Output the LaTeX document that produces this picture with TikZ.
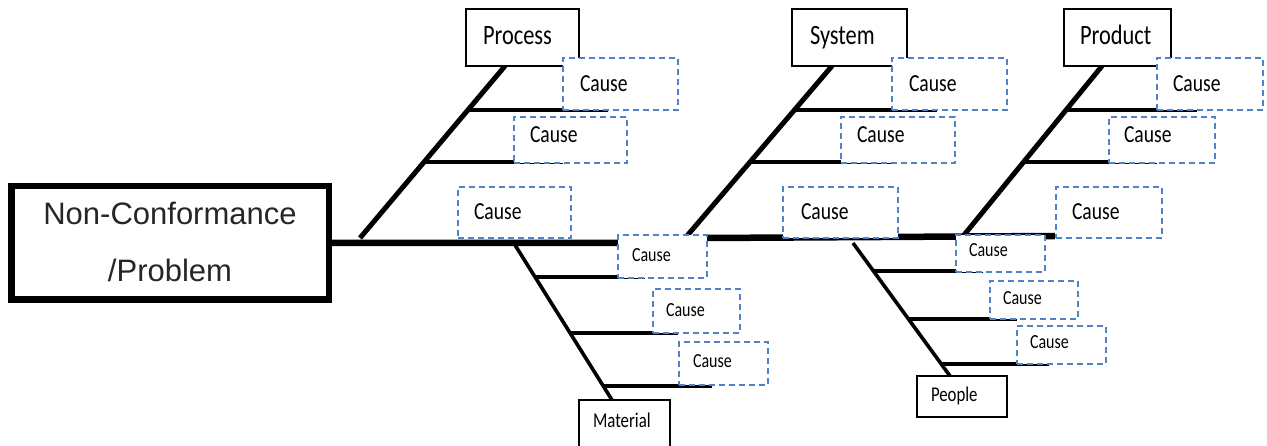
\documentclass[tikz,border=0pt]{standalone}
\usepackage{fontspec}
\setmainfont{Liberation Sans}
\newfontfamily\labelfont[FakeStretch=0.8]{Carlito}
\definecolor{causeblue}{RGB}{80,130,200}
\definecolor{probtext}{RGB}{38,38,38}

% box with its text set from a left pad and a baseline:
% {style}{name}{x1}{y1}{x2}{y2}{pad}{baseline}{text}
\newcommand\fishnode[9]{%
  \pgfmathsetmacro\fnH{#8-#4}%
  \pgfmathsetmacro\fnD{#6-#8}%
  \pgfmathsetmacro\fnW{#5-#3-2*#7}%
  \node[#1, inner xsep=#7pt, inner ysep=0pt, outer sep=0pt,
        text height=\fnH pt, text depth=\fnD pt, text width=\fnW pt,
        align=left, anchor=base west] (#2) at (#3,#8) {#9};}

\tikzset{
  spine/.style={line width=6.5pt},
  bone/.style={line width=5pt},
  thinbone/.style={line width=3.6pt},
  rib/.style={line width=4.6pt},
  thinrib/.style={line width=4pt},
  category/.style={draw=black, line width=1.2pt, fill=white,
    font=\labelfont\fontsize{28}{28}\selectfont},
  smallcategory/.style={draw=black, line width=1.2pt, fill=white,
    font=\labelfont\fontsize{21}{21}\selectfont},
  cause/.style={draw=causeblue, line width=1.5pt, dash pattern=on 6pt off 4pt,
    fill=white, font=\labelfont\fontsize{24.5}{24.5}\selectfont},
  smallcause/.style={cause, font=\labelfont\fontsize{20}{20}\selectfont},
}

\begin{document}
\begin{tikzpicture}[x=1pt, y=-1pt]
\useasboundingbox (0,0) rectangle (1267,446);
\clip (0,0) rectangle (1267,446);

% head of the fish
\node[draw=black, line width=6.5pt, outer sep=0pt, inner sep=0pt,
      minimum width=317.5pt, minimum height=113.5pt, align=center,
      text=probtext, font=\fontsize{31}{57}\selectfont]
  (problem) at (170,243) {\raisebox{2pt}{Non-Conformance}\\\raisebox{2pt}{/Problem}};

% backbone
\coordinate (sj1) at (618,243);
\coordinate (sj2) at (707,238);
\coordinate (spineend) at (1055,236);
\draw[spine] (problem.east) -- (sj1) -- (sj2) -- (spineend);

% upper bones
\coordinate (pfoot) at (360,238);  \coordinate (phead) at (505,66);
\coordinate (sfoot) at (686,237);  \coordinate (shead) at (832,66);
\coordinate (dfoot) at (964,235);  \coordinate (dhead) at (1102,66);
\draw[bone] (pfoot) -- (phead);
\draw[bone] (sfoot) -- (shead);
\draw[bone] (dfoot) -- (dhead);

% lower bones
\coordinate (mfoot) at (515,245);  \coordinate (mhead) at (612,400);
\coordinate (efoot) at (853,243);  \coordinate (ehead) at (950,376);
\draw[thinbone] (mfoot) -- (mhead);
\draw[thinbone] (efoot) -- (ehead);

% ribs of the upper bones
\coordinate (pr1a) at (468,110);  \coordinate (pr1b) at (608,110);
\coordinate (pr2a) at (424,162);  \coordinate (pr2b) at (563,162);
\coordinate (sr1a) at (794,110);  \coordinate (sr1b) at (937,110);
\coordinate (sr2a) at (750,162);  \coordinate (sr2b) at (892,162);
\coordinate (dr1a) at (1066,110); \coordinate (dr1b) at (1197,110);
\coordinate (dr2a) at (1024,162); \coordinate (dr2b) at (1157,162);
\foreach \r in {pr1,pr2,sr1,sr2,dr1,dr2}
  \draw[rib] (\r a) -- (\r b);

% ribs of the lower bones
\coordinate (mr1a) at (535,277);  \coordinate (mr1b) at (645,277);
\coordinate (mr2a) at (570,333);  \coordinate (mr2b) at (678,333);
\coordinate (mr3a) at (603,386);  \coordinate (mr3b) at (712,386);
\coordinate (er1a) at (874,271);  \coordinate (er1b) at (983,271);
\coordinate (er2a) at (909,319);  \coordinate (er2b) at (1017,319);
\coordinate (er3a) at (942,364);  \coordinate (er3b) at (1049,364);
\foreach \r in {mr1,mr2,mr3,er1,er2,er3}
  \draw[thinrib] (\r a) -- (\r b);

% categories
\fishnode{category}{process}{466}{9}{579}{66}{17}{45}{Process}
\fishnode{category}{system}{792}{9}{907}{66}{18}{45}{System}
\fishnode{category}{product}{1064}{9}{1171}{66}{16}{45}{Product}
\fishnode{smallcategory}{material}{579}{400}{670}{452}{14}{428}{Material}
\fishnode{smallcategory}{people}{917}{376}{1007}{417}{14}{402}{People}

% causes
\fishnode{cause}{pc1}{563}{58}{678}{110}{17}{92}{Cause}
\fishnode{cause}{pc2}{514}{117}{627}{163}{16}{143}{Cause}
\fishnode{cause}{pc3}{458}{187}{571}{238}{16}{220}{Cause}
\fishnode{cause}{sc1}{892}{58}{1007}{110}{17}{92}{Cause}
\fishnode{cause}{sc2}{841}{117}{955}{163}{16}{143}{Cause}
\fishnode{cause}{sc3}{783}{187}{898}{238}{18}{220}{Cause}
\fishnode{cause}{dc1}{1157}{58}{1263}{110}{16}{92}{Cause}
\fishnode{cause}{dc2}{1109}{117}{1215}{163}{15}{143}{Cause}
\fishnode{cause}{dc3}{1056}{187}{1162}{238}{16}{220}{Cause}
\fishnode{smallcause}{mc1}{618}{235}{707}{278}{14}{262}{Cause}
\fishnode{smallcause}{mc2}{653}{289}{740}{333}{13}{317}{Cause}
\fishnode{smallcause}{mc3}{679}{342}{768}{385}{14}{368}{Cause}
\fishnode{smallcause}{ec1}{956}{235}{1045}{272}{13}{257}{Cause}
\fishnode{smallcause}{ec2}{990}{281}{1078}{319}{13}{305}{Cause}
\fishnode{smallcause}{ec3}{1017}{326}{1106}{364}{13}{349}{Cause}
\end{tikzpicture}
\end{document}
